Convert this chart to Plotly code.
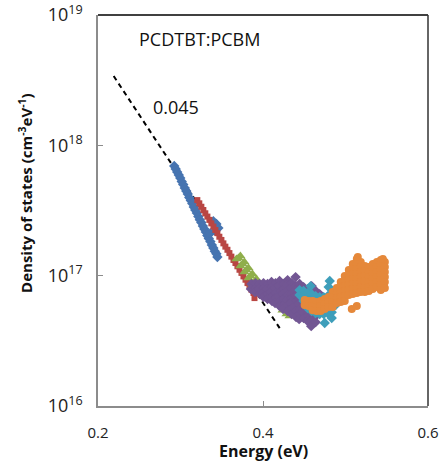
import plotly.graph_objects as go

# ---------------- data (Energy in eV, density of states in cm^-3 eV^-1) ----------------
fit_E = [0.2190, 0.4202]
fit_N = [3.40e18, 3.96e16]

blue_E = [0.2924, 0.2942, 0.2960, 0.2979, 0.2997, 0.3015, 0.3033, 0.3052, 0.3070, 0.3088,
          0.3106, 0.3125, 0.3143, 0.3161, 0.3179, 0.3198, 0.3216, 0.3234, 0.3252, 0.3271,
          0.3289, 0.3307, 0.3325, 0.3343, 0.3362, 0.3380, 0.3398, 0.3416, 0.3435, 0.3447,
          0.3398, 0.3435, 0.3459, 0.3422, 0.3362]
blue_N = [6.94e17, 6.58e17, 6.24e17, 5.92e17, 5.61e17, 5.28e17, 5.00e17, 4.70e17, 4.46e17, 4.23e17,
          3.98e17, 3.77e17, 3.58e17, 3.36e17, 3.19e17, 3.02e17, 2.84e17, 2.69e17, 2.56e17, 2.40e17,
          2.28e17, 2.16e17, 2.03e17, 1.93e17, 1.83e17, 1.72e17, 1.63e17, 1.54e17, 1.47e17, 1.39e17,
          2.62e17, 2.49e17, 2.32e17, 2.20e17, 2.12e17]

red_E = [0.3204, 0.3228, 0.3253, 0.3277, 0.3301, 0.3326, 0.3350, 0.3374, 0.3399, 0.3423,
         0.3447, 0.3471, 0.3496, 0.3520, 0.3544, 0.3569, 0.3593, 0.3617, 0.3642, 0.3666,
         0.3690, 0.3715, 0.3739, 0.3763, 0.3788, 0.3812, 0.3836, 0.3860, 0.3885, 0.3897]
red_N = [3.80e17, 3.59e17, 3.38e17, 3.19e17, 3.01e17, 2.84e17, 2.68e17, 2.52e17, 2.38e17, 2.24e17,
         2.12e17, 1.99e17, 1.88e17, 1.77e17, 1.67e17, 1.58e17, 1.49e17, 1.40e17, 1.32e17, 1.25e17,
         1.18e17, 1.11e17, 1.05e17, 9.87e16, 9.31e16, 8.77e16, 8.27e16, 7.80e16, 7.36e16, 6.73e16]

green_E = [0.3726, 0.3775, 0.3824, 0.3872, 0.3921, 0.3970, 0.4030, 0.4103, 0.4176, 0.4249, 0.4322,
           0.3678, 0.3726, 0.3775, 0.3824, 0.3872, 0.3921, 0.3982, 0.4055, 0.4128, 0.4201, 0.4274,
           0.3702, 0.3751, 0.3799, 0.3848, 0.3897, 0.3945, 0.4006, 0.4079, 0.4152, 0.4225, 0.4298,
           0.4237, 0.4286, 0.4322]
green_N = [14.14e16, 12.72e16, 11.44e16, 10.29e16, 9.42e16, 8.62e16, 8.03e16, 7.48e16, 7.10e16, 6.85e16, 6.61e16,
           13.41e16, 11.85e16, 10.66e16, 9.58e16, 8.62e16, 7.89e16, 7.35e16, 6.85e16, 6.50e16, 6.27e16, 6.05e16,
           13.65e16, 12.28e16, 11.04e16, 9.93e16, 8.93e16, 8.17e16, 7.62e16, 7.10e16, 6.73e16, 6.50e16, 6.27e16,
           5.44e16, 5.07e16, 4.90e16]

purple_E = [0.3860, 0.3854,
            0.3909, 0.3915, 0.3903,
            0.3957, 0.3951, 0.3963,
            0.4006, 0.4012, 0.4000, 0.4006,
            0.4055, 0.4049, 0.4061, 0.4055,
            0.4103, 0.4109, 0.4097, 0.4103, 0.4109,
            0.4152, 0.4146, 0.4158, 0.4152, 0.4146,
            0.4201, 0.4189, 0.4213, 0.4195, 0.4207, 0.4201,
            0.4249, 0.4255, 0.4243, 0.4249, 0.4261, 0.4243,
            0.4298, 0.4292, 0.4304, 0.4298, 0.4286, 0.4304, 0.4298,
            0.4347, 0.4341, 0.4353, 0.4347, 0.4335, 0.4353, 0.4347,
            0.4395, 0.4401, 0.4389, 0.4395, 0.4407, 0.4389, 0.4395, 0.4401,
            0.4444, 0.4438, 0.4450, 0.4444, 0.4432, 0.4450, 0.4444, 0.4438,
            0.4492, 0.4498, 0.4486, 0.4492, 0.4504, 0.4486, 0.4492,
            0.4541, 0.4535, 0.4547, 0.4541, 0.4529, 0.4547, 0.4541,
            0.4590, 0.4584, 0.4596, 0.4590, 0.4578, 0.4596, 0.4590, 0.4584,
            0.4638, 0.4644, 0.4632, 0.4638, 0.4650, 0.4638,
            0.4687, 0.4681, 0.4693, 0.4687]
purple_N = [8.62e16, 7.89e16,
            8.77e16, 8.03e16, 7.48e16,
            8.62e16, 7.89e16, 7.22e16,
            8.77e16, 8.03e16, 7.35e16, 6.85e16,
            8.62e16, 7.89e16, 7.22e16, 6.61e16,
            8.93e16, 8.17e16, 7.48e16, 6.85e16, 6.38e16,
            8.77e16, 8.03e16, 7.35e16, 6.73e16, 6.16e16,
            9.09e16, 8.32e16, 7.62e16, 6.97e16, 6.38e16, 5.84e16,
            8.62e16, 7.89e16, 7.22e16, 6.61e16, 6.05e16, 5.54e16,
            9.25e16, 8.47e16, 7.75e16, 7.10e16, 6.50e16, 5.95e16, 5.35e16,
            8.77e16, 8.03e16, 7.35e16, 6.73e16, 6.16e16, 5.64e16, 5.07e16,
            9.75e16, 8.32e16, 7.62e16, 6.97e16, 6.38e16, 5.84e16, 5.35e16, 4.81e16,
            8.62e16, 7.89e16, 7.22e16, 6.61e16, 6.05e16, 5.54e16, 5.07e16, 4.64e16,
            8.17e16, 7.48e16, 6.85e16, 6.27e16, 5.74e16, 5.25e16, 4.73e16,
            7.89e16, 7.22e16, 6.61e16, 6.05e16, 5.54e16, 4.98e16, 4.48e16,
            8.32e16, 7.48e16, 6.73e16, 6.16e16, 5.64e16, 5.07e16, 4.56e16, 4.10e16,
            7.62e16, 6.85e16, 6.16e16, 5.54e16, 4.98e16, 4.40e16,
            7.22e16, 6.50e16, 5.84e16, 5.16e16]

cyan_E = [0.4444, 0.4444,
          0.4492, 0.4492, 0.4492,
          0.4541, 0.4541, 0.4541, 0.4541,
          0.4590, 0.4590, 0.4590, 0.4590,
          0.4638, 0.4638, 0.4638, 0.4638,
          0.4687, 0.4687, 0.4687, 0.4687,
          0.4736, 0.4736, 0.4736, 0.4736,
          0.4784, 0.4784, 0.4784, 0.4784,
          0.4833, 0.4833, 0.4833, 0.4833,
          0.4881, 0.4881, 0.4881,
          0.4930, 0.4930,
          0.4809, 0.4796, 0.4748, 0.4833, 0.4578]
cyan_N = [7.75e16, 7.10e16,
          7.62e16, 6.97e16, 6.38e16,
          7.35e16, 6.73e16, 6.16e16, 5.64e16,
          7.22e16, 6.50e16, 5.84e16, 5.35e16,
          6.97e16, 6.27e16, 5.64e16, 5.16e16,
          6.85e16, 6.16e16, 5.54e16, 5.07e16,
          6.85e16, 6.16e16, 5.54e16, 5.07e16,
          6.97e16, 6.27e16, 5.64e16, 5.16e16,
          7.10e16, 6.38e16, 5.74e16, 5.25e16,
          7.22e16, 6.61e16, 5.95e16,
          7.10e16, 6.50e16,
          9.09e16, 8.17e16, 4.33e16, 4.73e16, 8.32e16]

orange_E = [0.4505, 0.4505,
            0.4553, 0.4553,
            0.4602, 0.4602, 0.4602,
            0.4650, 0.4650, 0.4650,
            0.4699, 0.4699, 0.4699,
            0.4748, 0.4748, 0.4748,
            0.4796, 0.4796, 0.4796,
            0.4845, 0.4845, 0.4845, 0.4845,
            0.4894, 0.4894, 0.4894, 0.4894,
            0.4942, 0.4942, 0.4942, 0.4942, 0.4942,
            0.4991, 0.4991, 0.4991, 0.4991, 0.4991, 0.4991,
            0.5040, 0.5040, 0.5040, 0.5040, 0.5040, 0.5040,
            0.5088, 0.5088, 0.5088, 0.5088, 0.5088, 0.5088, 0.5088,
            0.5137, 0.5137, 0.5137, 0.5137, 0.5137, 0.5137, 0.5137, 0.5137,
            0.5185, 0.5185, 0.5185, 0.5185, 0.5185, 0.5185, 0.5185,
            0.5234, 0.5234, 0.5234, 0.5234, 0.5234, 0.5234,
            0.5283, 0.5283, 0.5283, 0.5283, 0.5283, 0.5283,
            0.5331, 0.5331, 0.5331, 0.5331, 0.5331, 0.5331,
            0.5380, 0.5380, 0.5380, 0.5380, 0.5380, 0.5380,
            0.5428, 0.5428, 0.5428, 0.5428, 0.5428, 0.5428, 0.5428,
            0.5477, 0.5477, 0.5477, 0.5477, 0.5477, 0.5477,
            0.5149, 0.5453, 0.5076, 0.5137]
orange_N = [6.50e16, 5.95e16,
            6.38e16, 5.84e16,
            6.38e16, 5.84e16, 5.44e16,
            6.27e16, 5.74e16, 5.35e16,
            6.38e16, 5.84e16, 5.35e16,
            6.61e16, 6.05e16, 5.54e16,
            6.85e16, 6.27e16, 5.74e16,
            7.48e16, 6.85e16, 6.27e16, 5.74e16,
            8.03e16, 7.35e16, 6.73e16, 6.16e16,
            8.93e16, 8.17e16, 7.48e16, 6.85e16, 6.27e16,
            9.93e16, 9.09e16, 8.32e16, 7.62e16, 6.97e16, 6.38e16,
            11.04e16, 10.11e16, 9.25e16, 8.47e16, 7.75e16, 7.10e16,
            12.28e16, 11.24e16, 10.29e16, 9.42e16, 8.62e16, 7.89e16, 7.22e16,
            13.41e16, 12.28e16, 11.24e16, 10.29e16, 9.42e16, 8.62e16, 7.89e16, 7.35e16,
            12.72e16, 11.64e16, 10.66e16, 9.75e16, 8.93e16, 8.17e16, 7.48e16,
            11.85e16, 10.85e16, 9.93e16, 9.09e16, 8.03e16, 7.48e16,
            11.64e16, 10.66e16, 9.75e16, 8.93e16, 8.17e16, 7.62e16,
            12.28e16, 11.24e16, 10.29e16, 9.42e16, 8.62e16, 7.89e16,
            12.72e16, 11.64e16, 10.66e16, 9.75e16, 8.93e16, 8.17e16,
            13.18e16, 12.06e16, 11.04e16, 10.11e16, 9.25e16, 8.47e16, 7.75e16,
            12.72e16, 11.64e16, 10.66e16, 9.75e16, 8.93e16, 8.03e16,
            13.89e16, 13.41e16, 5.54e16, 5.84e16]

x_ticks = [0.2, 0.4, 0.6]
x_ticktext = ["0.2", "0.4", "0.6"]
y_ticks = [1e16, 1e17, 1e18, 1e19]
y_ticktext = ["10<sup>16</sup>", "10<sup>17</sup>", "10<sup>18</sup>", "10<sup>19</sup>"]

# ---------------- figure ----------------
FONT = "Open Sans"
fig = go.Figure()

fig.add_trace(go.Scatter(x=fit_E, y=fit_N, mode="lines",
                         line=dict(color="black", width=2, dash="5px,4px"),
                         showlegend=False, hoverinfo="skip"))

series = [
    (blue_E, blue_N, "#4674B0", "diamond", 8),
    (red_E, red_N, "#B94643", "square", 6),
    (green_E, green_N, "#8FAE4B", "triangle-up", 9),
    (purple_E, purple_N, "#725693", "diamond", 8),
    (cyan_E, cyan_N, "#3E9EBA", "diamond", 8),
    (orange_E, orange_N, "#E5883A", "circle", 8),
]
for xs, ys, col, sym, sz in series:
    fig.add_trace(go.Scatter(x=xs, y=ys, mode="markers",
                             marker=dict(color=col, symbol=sym, size=sz, line=dict(width=0)),
                             showlegend=False))

fig.update_layout(
    width=443, height=466,
    margin=dict(l=98, r=15, t=15, b=60, autoexpand=False),
    paper_bgcolor="white", plot_bgcolor="white",
    font=dict(family=FONT, color="#222222"),
    xaxis=dict(range=[0.2, 0.6], tickvals=x_ticks, ticktext=x_ticktext,
               ticks="inside", ticklen=5, tickcolor="#8c8c8c",
               showline=True, linecolor="#8c8c8c", linewidth=1.5,
               showgrid=False, zeroline=False, automargin=False,
               ticklabeloverflow="allow",
               tickfont=dict(family=FONT, size=15, color="#222222"),
               ticklabelstandoff=12),
    yaxis=dict(type="log", range=[16, 19], tickvals=y_ticks, ticktext=y_ticktext,
               ticks="inside", ticklen=5, tickcolor="#8c8c8c",
               showline=True, linecolor="#8c8c8c", linewidth=1.5,
               showgrid=False, zeroline=False, automargin=False,
               ticklabeloverflow="allow",
               tickfont=dict(family=FONT, size=18, color="#222222"),
               ticklabelstandoff=10),
    shapes=[
        dict(type="line", xref="paper", yref="paper", x0=0, x1=1, y0=1, y1=1,
             line=dict(color="black", width=1.5)),
        dict(type="line", xref="paper", yref="paper", x0=1, x1=1, y0=0, y1=1,
             line=dict(color="#333333", width=1.5)),
    ],
    annotations=[
        dict(text="PCDTBT:PCBM", xref="paper", yref="paper", x=0.308, y=0.9386,
             xanchor="center", yanchor="middle", showarrow=False,
             font=dict(family=FONT, size=18, color="#111111")),
        dict(text="0.045", xref="paper", yref="paper", x=0.237, y=0.7647,
             xanchor="center", yanchor="middle", showarrow=False,
             font=dict(family=FONT, size=18, color="#111111")),
        dict(text="<b>Energy (eV)</b>", xref="paper", yref="paper", x=0.5, y=-0.1155,
             xanchor="center", yanchor="middle", showarrow=False,
             font=dict(family=FONT, size=16, color="#111111")),
        dict(text="<b>Density of states (cm<sup>-3</sup>eV<sup>-1</sup>)</b>",
             xref="paper", yref="paper", x=-0.22, y=0.546, textangle=-90,
             xanchor="center", yanchor="middle", showarrow=False,
             font=dict(family=FONT, size=15, color="#111111")),
    ],
)

# remove the browser's default page margin / scrollbars so the figure sits at (0, 0)
fig.write_html("out.html",
               config={"displayModeBar": False},
               post_script="document.body.style.margin='0';"
                           "document.body.style.overflow='hidden';")
